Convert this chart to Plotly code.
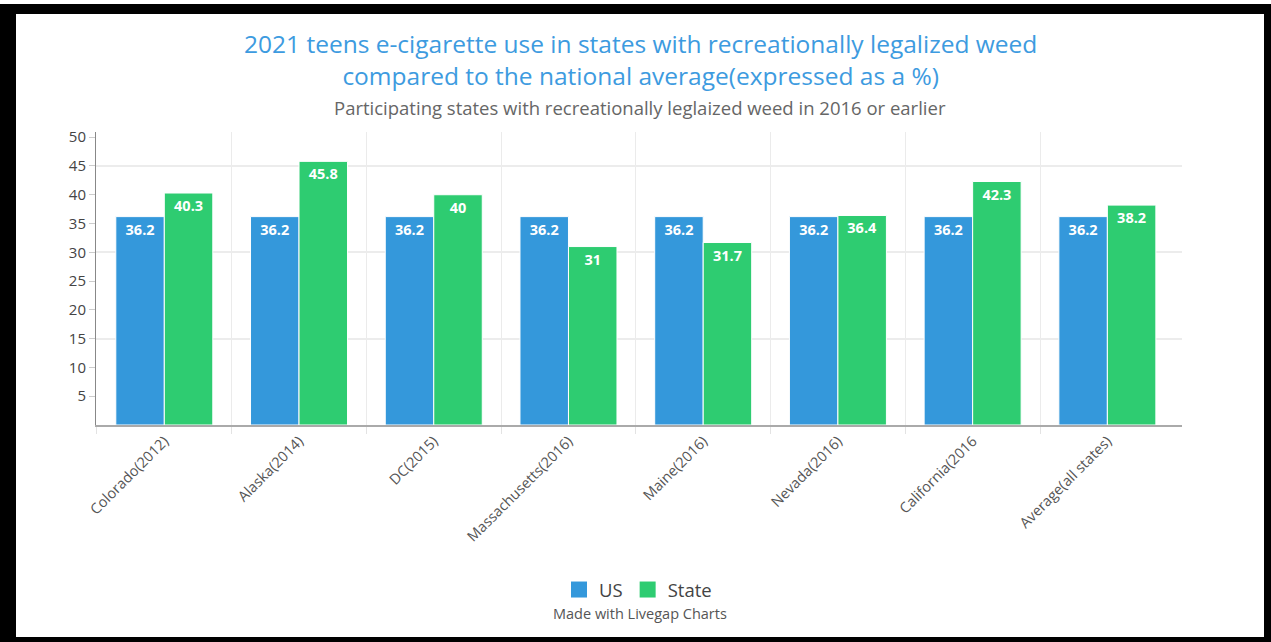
import plotly.graph_objects as go

categories = ["Colorado(2012)", "Alaska(2014)", "DC(2015)", "Massachusetts(2016)",
              "Maine(2016)", "Nevada(2016)", "California(2016", "Average(all states)"]
us_values = [36.2, 36.2, 36.2, 36.2, 36.2, 36.2, 36.2, 36.2]
state_values = [40.3, 45.8, 40, 31, 31.7, 36.4, 42.3, 38.2]
y_ticks = [5, 10, 15, 20, 25, 30, 35, 40, 45, 50]

BLUE = "#3498db"
GREEN = "#2ecc71"
FONT = "Open Sans"

W, H = 1271, 642
ML, MR, MT, MB = 96, 89, 132, 217
PW = W - ML - MR
PH = H - MT - MB


def px(x):
    return (x - ML) / PW


def py(y):
    return (H - MB - y) / PH


xpos = list(range(len(categories)))
boundaries = [i - 0.5 for i in range(len(categories))]

fig = go.Figure()
for name, vals, col in [("US", us_values, BLUE), ("State", state_values, GREEN)]:
    fig.add_trace(go.Bar(
        x=xpos, y=vals, name=name, marker=dict(color=col, line=dict(color="white", width=1)),
        text=[f"{v:g}" for v in vals], textposition="inside", insidetextanchor="end",
        textangle=0, constraintext="none",
        textfont=dict(family=FONT, size=14.5, color="white", weight="bold"),
        showlegend=False, customdata=categories, hovertemplate="%{customdata}: %{y}<extra>" + name + "</extra>",
    ))
    fig.add_trace(go.Scatter(
        x=[None], y=[None], mode="markers", name=name,
        marker=dict(symbol="square", size=20, color=col),
    ))

shapes = []
for x0, y0, x1, y1 in [(0, 4, W, 14), (0, 4, 16, H), (1264, 4, W, H), (0, 637, W, H)]:
    shapes.append(dict(type="rect", xref="paper", yref="paper",
                       x0=px(x0), x1=px(x1), y0=py(y0), y1=py(y1),
                       fillcolor="black", line=dict(width=0), layer="above"))

annotations = [
    dict(text="2021 teens e-cigarette use in states with recreationally legalized weed<br>"
              "compared to the national average(expressed as a %)",
         xref="paper", yref="paper", x=px(640), y=py(59), xanchor="center", yanchor="middle",
         showarrow=False, font=dict(family=FONT, size=24.5, color="#3d9be0")),
    dict(text="Participating states with recreationally leglaized weed in 2016 or earlier",
         xref="paper", yref="paper", x=px(640), y=py(108), xanchor="center", yanchor="middle",
         showarrow=False, font=dict(family=FONT, size=18.5, color="#666666")),
    dict(text="Made with Livegap Charts",
         xref="paper", yref="paper", x=px(640), y=py(613), xanchor="center", yanchor="middle",
         showarrow=False, font=dict(family=FONT, size=14.5, color="#555555")),
]

fig.update_layout(
    width=W, height=H,
    margin=dict(l=ML, r=MR, t=MT, b=MB, pad=0),
    paper_bgcolor="white", plot_bgcolor="white",
    barmode="group", bargap=0.28, bargroupgap=0,
    font=dict(family=FONT, color="#555555"),
    shapes=shapes, annotations=annotations,
    legend=dict(orientation="h", x=px(638), xanchor="center", y=py(590), yanchor="middle",
                font=dict(family=FONT, size=18.5, color="#444444"), itemsizing="trace"),
    xaxis=dict(
        range=[-0.507, 7.554], tickvals=xpos, ticktext=categories,
        showgrid=False, zeroline=False, ticks="",
        minor=dict(tickvals=boundaries, showgrid=True, gridcolor="#ebebeb", gridwidth=1,
                   ticks="outside", ticklen=7, tickcolor="#e3e3e3"),
        showline=True, linecolor="#aaaaaa", linewidth=2,
        tickangle=-45, tickfont=dict(family=FONT, size=14.5, color="#555555"),
        fixedrange=True,
    ),
    yaxis=dict(
        range=[0, 50.9], tickvals=y_ticks, ticktext=[str(t) for t in y_ticks],
        showgrid=False, zeroline=False,
        minor=dict(dtick=15, tick0=0, showgrid=True, gridcolor="#ececec", gridwidth=1.5, ticks=""),
        ticks="outside", ticklen=6, tickcolor="#cccccc",
        showline=True, linecolor="#888888", linewidth=1,
        tickfont=dict(family=FONT, size=15, color="#444444"),
        fixedrange=True,
    ),
)

fig.write_html("out.html", config={"displayModeBar": False})
